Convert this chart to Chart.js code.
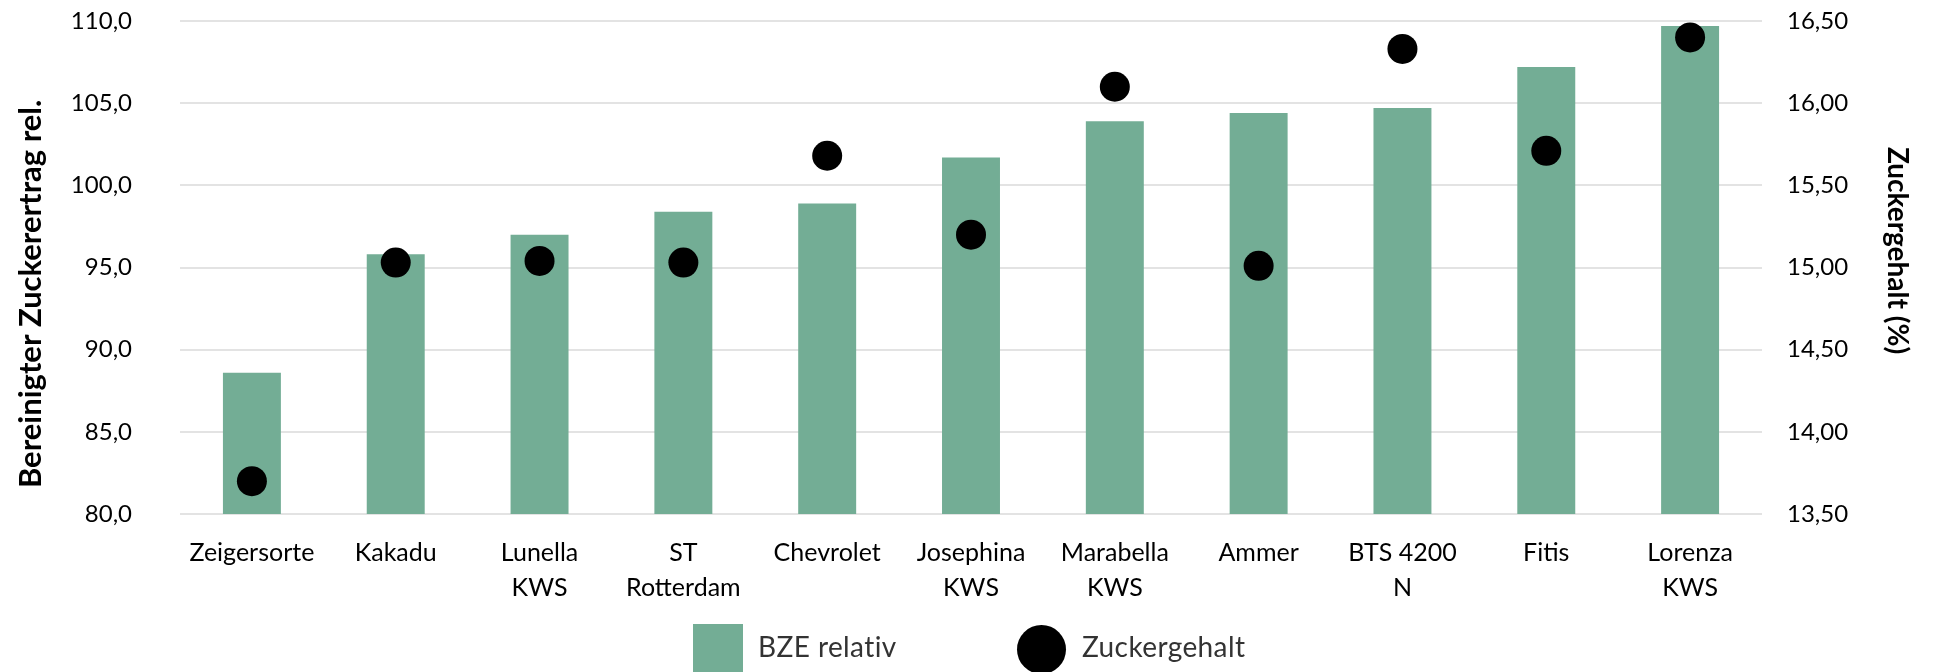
<!DOCTYPE html>
<html lang="de">
<head>
<meta charset="utf-8">
<title>BZE relativ und Zuckergehalt</title>
<script src="https://cdn.jsdelivr.net/npm/chart.js@4.4.1/dist/chart.umd.min.js"></script>
<style>
    html, body { margin: 0; padding: 0; background: #fff; }
    #wrap { position: relative; width: 1933px; height: 672px; overflow: hidden; }
    #legend { position: absolute; top: 0; left: 0; font-family: Lato, sans-serif; font-size: 28px; color: #333; }
    .swatch { position: absolute; left: 693px; top: 624px; width: 50px; height: 56px; background: #73ad95; }
    .dot { position: absolute; left: 1017px; top: 625px; width: 49px; height: 49px; border-radius: 50%; background: #000; }
    .txt { position: absolute; top: 628px; line-height: 36px; white-space: nowrap; letter-spacing: 0.4px; }
</style>
</head>
<body>
<div id="wrap">
    <canvas id="chart" width="1933" height="672"></canvas>
    <div id="legend">
        <div class="swatch"></div><div class="txt" style="left:758px">BZE relativ</div>
        <div class="dot"></div><div class="txt" style="left:1082px">Zuckergehalt</div>
    </div>
</div>
<script>
// Sorten (multi-line labels as arrays)
const sorten = [
    'Zeigersorte', 'Kakadu', ['Lunella', 'KWS'], ['ST', 'Rotterdam'], 'Chevrolet',
    ['Josephina', 'KWS'], ['Marabella', 'KWS'], 'Ammer', ['BTS 4200', 'N'], 'Fitis', ['Lorenza', 'KWS']
];

// Bereinigter Zuckerertrag relativ
const bzeRelativ = [88.6, 95.8, 97.0, 98.4, 98.9, 101.7, 103.9, 104.4, 104.7, 107.2, 109.7];

// Zuckergehalt in %
const zuckergehalt = [13.70, 15.03, 15.04, 15.03, 15.68, 15.20, 16.10, 15.01, 16.33, 15.71, 16.40];

// Axis ranges
const yLeft = { min: 80, max: 110, step: 5 };
const yRight = { min: 13.5, max: 16.5, step: 0.5 };

const fmt = (v, d) => v.toFixed(d).replace('.', ',');

// fixed axis width; drop the tick padding chart.js adds above/below vertical axes
const fixWidth = w => s => { s.width = w; s.paddingTop = 0; s.paddingBottom = 0; };

const ctx = document.getElementById('chart').getContext('2d');
new Chart(ctx, {
    type: 'bar',
    data: {
        labels: sorten,
        datasets: [
            {
                type: 'line',
                label: 'Zuckergehalt',
                data: zuckergehalt,
                yAxisID: 'y1',
                showLine: false,
                pointRadius: 15,
                pointHoverRadius: 15,
                pointBackgroundColor: '#000',
                pointBorderColor: '#000',
                pointBorderWidth: 0,
                order: 1
            },
            {
                type: 'bar',
                label: 'BZE relativ',
                data: bzeRelativ,
                yAxisID: 'y',
                backgroundColor: '#73ad95',
                categoryPercentage: 1,
                barPercentage: 0.403,
                order: 2
            }
        ]
    },
    options: {
        responsive: false,
        animation: false,
        layout: { autoPadding: false, padding: { top: 21, left: 0, right: 0, bottom: 0 } },
        plugins: { legend: { display: false }, tooltip: { enabled: false } },
        scales: {
            x: {
                grid: { display: false },
                border: { display: false },
                ticks: {
                    color: '#000',
                    padding: 13,
                    maxRotation: 0,
                    autoSkip: false,
                    font: { family: 'Lato', size: 25, lineHeight: 1.4 }
                },
                afterFit: s => { s.height = 158; }
            },
            y: {
                position: 'left',
                min: yLeft.min,
                max: yLeft.max,
                grid: { color: '#e3e3e3', lineWidth: 2, drawTicks: false },
                border: { display: false },
                ticks: {
                    stepSize: yLeft.step,
                    color: '#000',
                    padding: 48,
                    font: { family: 'Lato', size: 24 },
                    callback: v => fmt(v, 1)
                },
                title: {
                    display: true,
                    // trailing spaces nudge the title down a bit, like the original
                    text: 'Bereinigter Zuckerertrag rel.' + ' '.repeat(7),
                    color: '#000',
                    padding: { top: 12, bottom: 0 },
                    font: { family: 'Lato', size: 31, weight: 'bold' }
                },
                afterFit: fixWidth(180)
            },
            y1: {
                position: 'right',
                min: yRight.min,
                max: yRight.max,
                grid: { display: false, drawTicks: false },
                border: { display: false },
                ticks: {
                    stepSize: yRight.step,
                    color: '#000',
                    padding: 25,
                    font: { family: 'Lato', size: 24 },
                    callback: v => fmt(v, 2)
                },
                title: {
                    display: true,
                    text: 'Zuckergehalt (%)' + ' '.repeat(5),
                    color: '#000',
                    padding: { top: 19, bottom: 0 },
                    font: { family: 'Lato', size: 28, weight: 'bold' }
                },
                afterFit: fixWidth(171)
            }
        }
    }
});
</script>
</body>
</html>
